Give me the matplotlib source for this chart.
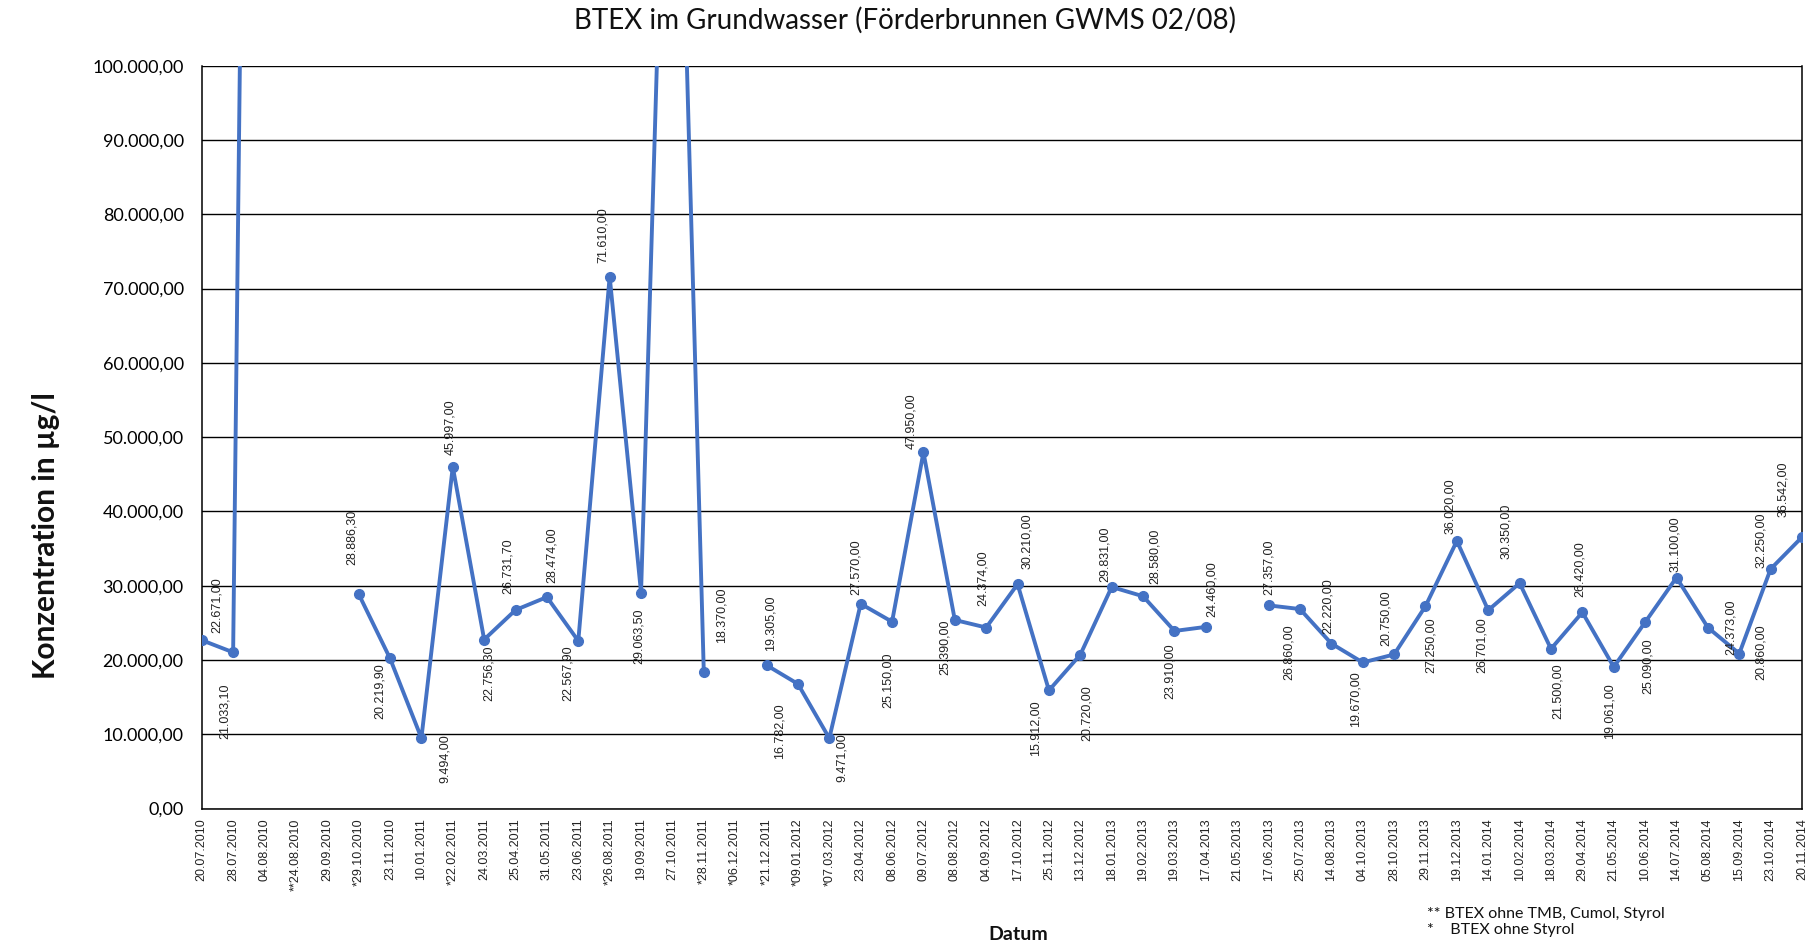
import matplotlib
matplotlib.use("Agg")
import matplotlib.pyplot as plt
from matplotlib.ticker import FuncFormatter, MultipleLocator

# Sampling dates (asterisks refer to the footnotes)
dates = [
    "20.07.2010", "28.07.2010", "04.08.2010", "**24.08.2010", "29.09.2010",
    "*29.10.2010", "23.11.2010", "10.01.2011", "*22.02.2011", "24.03.2011",
    "25.04.2011", "31.05.2011", "23.06.2011", "*26.08.2011", "19.09.2011",
    "27.10.2011", "*28.11.2011", "*06.12.2011", "*21.12.2011", "*09.01.2012",
    "*07.03.2012", "23.04.2012", "08.06.2012", "09.07.2012", "08.08.2012",
    "04.09.2012", "17.10.2012", "25.11.2012", "13.12.2012", "18.01.2013",
    "19.02.2013", "19.03.2013", "17.04.2013", "21.05.2013", "17.06.2013",
    "25.07.2013", "14.08.2013", "04.10.2013", "28.10.2013", "29.11.2013",
    "19.12.2013", "14.01.2014", "10.02.2014", "18.03.2014", "29.04.2014",
    "21.05.2014", "10.06.2014", "14.07.2014", "05.08.2014", "15.09.2014",
    "23.10.2014", "20.11.2014",
]

# BTEX concentration in µg/l (None = no measurement)
btex = [
    22671.00, 21033.10, 390000.00, None, None,
    28886.30, 20219.90, 9494.00, 45997.00, 22756.30,
    26731.70, 28474.00, 22567.90, 71610.00, 29063.50,
    170000.00, 18370.00, None, 19305.00, 16782.00,
    9471.00, 27570.00, 25150.00, 47950.00, 25390.00,
    24374.00, 30210.00, 15912.00, 20720.00, 29831.00,
    28580.00, 23910.00, 24460.00, None, 27357.00,
    26860.00, 22220.00, 19670.00, 20750.00, 27250.00,
    36020.00, 26701.00, 30350.00, 21500.00, 26420.00,
    19061.00, 25090.00, 31100.00, 24373.00, 20860.00,
    32250.00, 36542.00,
]

# Data-label placement relative to each marker (dx right, dy down, in pixels)
label_offsets = [
    (15, -35), (-8, 59), None, None, None,
    (-7, -57), (-10, 33), (23, 21), (-3, -40), (5, 34),
    (-8, -44), (5, -42), (-10, 32), (-7, -41), (-2, 44),
    None, (18, -57), None, (4, -42), (-18, 47),
    (13, 19), (-5, -37), (-4, 58), (-12, -31), (-10, 27),
    (-3, -49), (9, -43), (-13, 38), (6, 58), (-7, -33),
    (12, -40), (-5, 40), (6, -38), None, (0, -38),
    (-11, 43), (-4, -37), (-7, 37), (-8, -36), (5, 39),
    (-7, -35), (-6, 35), (-14, -52), (7, 42), (-3, -43),
    (-4, 44), (3, 44), (-1, -33), (23, 0), (22, -1),
    (-10, -29), (-19, -48),
]

y_max = 100000
y_step = 10000

title = "BTEX im Grundwasser (Förderbrunnen GWMS 02/08)"
y_title = "Konzentration in µg/l"
x_title = "Datum"
notes = ["** BTEX ohne TMB, Cumol, Styrol", "*    BTEX ohne Styrol"]

LINE_BLUE = "#4472C4"
UI_FONT = ["Lato", "DejaVu Sans"]
SMALL_FONT = ["Liberation Sans", "DejaVu Sans"]


def de_number(v, _pos=None):
    s = f"{v:,.2f}"
    return s.replace(",", "#").replace(".", ",").replace("#", ".")


fig = plt.figure(figsize=(18.16, 9.43), dpi=100)
ax = fig.add_axes([0.1111, 0.1425, 0.9923 - 0.1111, 0.9304 - 0.1425])

x = list(range(len(dates)))
y = [float("nan") if v is None else v for v in btex]
ax.plot(x, y, color=LINE_BLUE, linewidth=2.8, marker="o", markersize=7,
        markerfacecolor=LINE_BLUE, markeredgecolor=LINE_BLUE, zorder=3,
        solid_joinstyle="round")

ax.set_xlim(0, len(dates) - 1)
ax.set_ylim(0, y_max)
ax.yaxis.set_major_locator(MultipleLocator(y_step))
ax.yaxis.set_major_formatter(FuncFormatter(de_number))
ax.grid(axis="y", color="black", linewidth=1.0, zorder=1)
ax.set_axisbelow(True)

ax.set_xticks(x)
ax.set_xticklabels(dates, rotation=90, fontsize=9, family=SMALL_FONT,
                   color="#222222")
ax.tick_params(axis="x", length=0, pad=7)
ax.tick_params(axis="y", length=0, pad=13, labelsize=13)
for lbl in ax.get_yticklabels():
    lbl.set_family(UI_FONT)

for side in ("left", "bottom", "right"):
    ax.spines[side].set_color("black")
    ax.spines[side].set_linewidth(1.1)
ax.spines["top"].set_visible(False)

# Rotated value labels next to each visible marker
for i, v in enumerate(btex):
    off = label_offsets[i]
    if v is None or off is None or v > y_max:
        continue
    ax.annotate(de_number(v), xy=(i, v), xytext=(off[0], -off[1]),
                textcoords="offset pixels", rotation=90, ha="center",
                va="center", fontsize=9, family=SMALL_FONT, color="#222222",
                zorder=4, annotation_clip=False)

fig.text(0.4985, 0.979, title, ha="center", va="center", fontsize=20,
         family=UI_FONT, color="#111111")
fig.text(0.0255, 0.432, y_title, rotation=90, ha="center", va="center",
         fontsize=21.5, fontweight="bold", family=UI_FONT, color="#111111")
fig.text(0.5605, 0.0095, x_title, ha="center", va="center", fontsize=14,
         fontweight="bold", family=UI_FONT, color="#111111")
fig.text(0.7858, 0.0305, notes[0], ha="left", va="center", fontsize=11.5,
         family=UI_FONT, color="#111111")
fig.text(0.7858, 0.0135, notes[1], ha="left", va="center", fontsize=11.5,
         family=UI_FONT, color="#111111")

fig.savefig("out.png", dpi=100, facecolor="white")
